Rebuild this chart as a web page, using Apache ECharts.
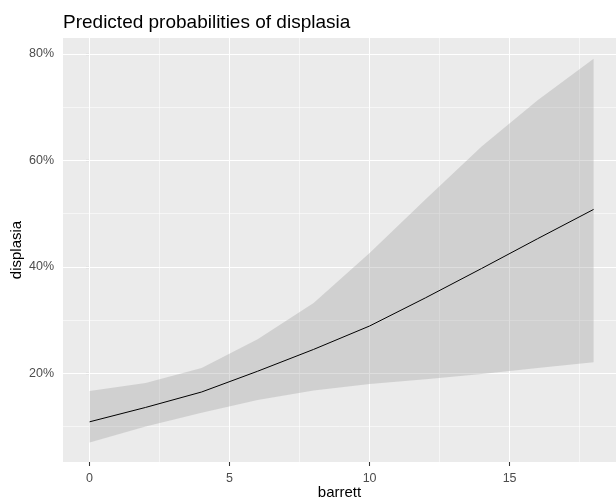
<!DOCTYPE html>
<html><head><meta charset="utf-8">
<script src="https://cdn.jsdelivr.net/npm/echarts@6/dist/echarts.min.js"></script>
<style>html,body{margin:0;padding:0;background:#fff}#c{width:616px;height:500px}</style>
</head><body><div id="c"></div>
<script>
const titleText = 'Predicted probabilities of displasia';
const xName = 'barrett';
const yName = 'displasia';
const barrett = [0, 2, 4, 6, 8, 10, 12, 14, 16, 18];
const predicted = [10.9, 13.6, 16.5, 20.4, 24.5, 28.9, 34.2, 39.7, 45.3, 50.8];
const ciLow = [7.0, 10.0, 12.6, 15.0, 16.8, 18.0, 18.9, 19.9, 21.0, 22.1];
const ciHigh = [16.7, 18.2, 21.0, 26.4, 33.2, 42.6, 52.7, 62.6, 71.3, 79.1];
const xTicks = [0, 5, 10, 15];
const xMinor = [2.5, 7.5, 12.5, 17.5];
const yTicks = [20, 40, 60, 80];
const yMinor = [10, 30, 50, 70];

const FONT = 'Liberation Sans, Arial, sans-serif';
const chart = echarts.init(document.getElementById('c'), null, {renderer: 'canvas'});

const major = {color: '#ffffff', width: 1.07, type: 'solid'};
const minor = {color: '#ffffff', width: 0.55, type: 'solid'};
const gridLines = [].concat(
  yMinor.map(v => ({yAxis: v, lineStyle: minor})),
  xMinor.map(v => ({xAxis: v, lineStyle: minor})),
  yTicks.map(v => ({yAxis: v, lineStyle: major})),
  xTicks.map(v => ({xAxis: v, lineStyle: major}))
);

chart.setOption({
  animation: false,
  backgroundColor: '#ffffff',
  title: {
    text: titleText, left: 63, top: 13, padding: 0,
    textStyle: {fontFamily: FONT, fontSize: 19, fontWeight: 'normal', color: '#000'}
  },
  grid: {left: 63, right: 0, top: 38, bottom: 38, outerBoundsMode: 'none', containLabel: false,
    show: true, backgroundColor: '#ebebeb', borderWidth: 0},
  xAxis: {
    type: 'value', min: -0.95, max: 18.8,
    name: xName, nameLocation: 'middle', nameGap: 23, nameMoveOverlap: false,
    nameTextStyle: {fontFamily: FONT, fontSize: 15, color: '#000'},
    axisLine: {show: false},
    axisTick: {show: true, customValues: xTicks, length: 4, lineStyle: {color: '#333333', width: 1.07}},
    axisLabel: {customValues: xTicks, fontFamily: FONT, fontSize: 12.5, color: '#4d4d4d', margin: 10},
    splitLine: {show: false}
  },
  yAxis: {
    type: 'value', min: 3.35, max: 83.0,
    name: yName, nameLocation: 'middle', nameGap: 39, nameRotate: 90, nameMoveOverlap: false,
    nameTextStyle: {fontFamily: FONT, fontSize: 15, color: '#000'},
    axisLine: {show: false},
    axisTick: {show: true, customValues: yTicks, length: 4, lineStyle: {color: '#333333', width: 1.07}},
    axisLabel: {customValues: yTicks, fontFamily: FONT, fontSize: 12.5, color: '#4d4d4d', margin: 9,
      formatter: v => v + '%'},
    splitLine: {show: false}
  },
  series: [
    {
      type: 'line', z: 1, silent: true, symbol: 'none',
      data: barrett.map((x, i) => [x, predicted[i]]),
      lineStyle: {opacity: 0, width: 0},
      markLine: {z: 1, silent: true, symbol: ['none', 'none'], label: {show: false},
        emphasis: {disabled: true}, animation: false, data: gridLines}
    },
    {
      type: 'custom', z: 2, silent: true,
      data: [0],
      renderItem: function (params, api) {
        const pts = [];
        for (let i = 0; i < barrett.length; i++) pts.push(api.coord([barrett[i], ciHigh[i]]));
        for (let i = barrett.length - 1; i >= 0; i--) pts.push(api.coord([barrett[i], ciLow[i]]));
        return {
          type: 'polygon',
          shape: {points: pts},
          style: {fill: 'rgba(153,153,153,0.32)', stroke: null}
        };
      }
    },
    {
      type: 'line', z: 3, silent: true, symbol: 'none',
      data: barrett.map((x, i) => [x, predicted[i]]),
      lineStyle: {color: '#000000', width: 1}
    }
  ]
});
</script></body></html>
